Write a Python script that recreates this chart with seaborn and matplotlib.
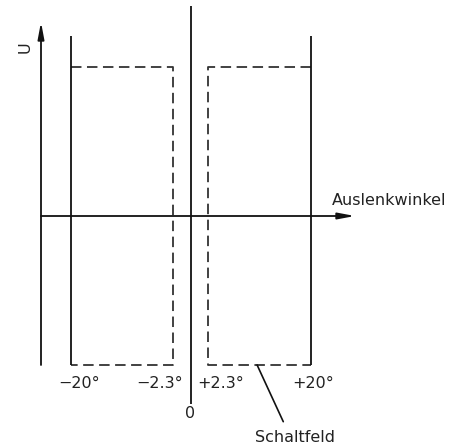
import numpy as np
import pandas as pd
import matplotlib
matplotlib.use('Agg')
import matplotlib.pyplot as plt
import seaborn as sns

# --- data (schematic: switching fields of a deflection-angle sensor) ---
angle_ticks = [-20, -2.3, 2.3, 20]                  # Auslenkwinkel in degrees
tick_labels = ['\u221220\u00b0', '\u22122.3\u00b0', '+2.3\u00b0', '+20\u00b0']
field_outer = [-20, 20]                             # outer limits of each field
field_inner = [-2.3, 2.3]                           # inner limits of each field
u_high, u_low = 1.0, -1.0                           # switching output U

sns.set_theme(style='white')
plt.rcParams['font.family'] = ['DejaVu Sans']

W, H = 450, 448
fig = plt.figure(figsize=(W / 100, H / 100), dpi=100)
ax = fig.add_axes([0, 0, 1, 1])
ax.set_axis_off()

# drawing is not to scale: compress angles with a mild power law
p = 0.9
fwd = lambda x: np.sign(x) * np.abs(x) ** p
inv = lambda y: np.sign(y) * np.abs(y) ** (1 / p)
ax.set_xscale('function', functions=(fwd, inv))
x0, k = 190.5, 120 / fwd(20)        # centre pixel, pixels per scaled unit
y0, ky = 216, 149                   # U = 0 pixel row, pixels per unit of U
ax.set_xlim(inv(-x0 / k), inv((W - x0) / k))
ax.set_ylim((y0 - H) / ky, y0 / ky)

ink = '#111111'

# dashed switching fields
rows = []
for i, (o, n) in enumerate(zip(field_outer, field_inner)):
    for x, y in [(o, u_high), (n, u_high), (n, u_low), (o, u_low)]:
        rows.append({'x': x, 'y': y, 'field': i})
df = pd.DataFrame(rows)
sns.lineplot(data=df, x='x', y='y', units='field', estimator=None, sort=False,
             ax=ax, color='#333333', lw=1.3, ls=(0, (5.8, 3.05)), legend=False)

# solid limit lines at +/-20 deg and the zero line
ax.vlines(field_outer, u_low, 1.21, color=ink, lw=1.3)
ax.vlines([0], -1.262, 1.41, color=ink, lw=1.3)

# coordinate axes with arrows (figure pixels, origin bottom-left)
arrow = dict(arrowstyle='-|>,head_length=0.4,head_width=0.075', color=ink,
             lw=1.3, mutation_scale=25, shrinkA=0, shrinkB=0)
ax.annotate('', xy=(41, H - 22), xytext=(41, H - 365),
            xycoords='figure pixels', arrowprops=arrow)
ax.annotate('', xy=(355, H - y0), xytext=(41, H - y0),
            xycoords='figure pixels', arrowprops=arrow)

fs = 11.5
txt = '#222222'
ax.text(25, H - 47, 'U', transform=None, rotation=90, ha='center',
        va='center', fontsize=fs, color=txt)
ax.text(332, H - 205, 'Auslenkwinkel', transform=None, ha='left',
        va='baseline', fontsize=fs, color=txt)

# angle labels under the fields
offsets = [8.5, -13.5, 12.5, 3]
for a, lbl, dx in zip(angle_ticks, tick_labels, offsets):
    ax.annotate(lbl, xy=(a, u_low), xytext=(dx, -23), textcoords='offset pixels',
                ha='center', va='baseline', fontsize=fs, color=txt)
ax.annotate('0', xy=(0, u_low), xytext=(0, -53), textcoords='offset pixels',
            ha='center', va='baseline', fontsize=fs, color=txt)

# leader to the switching field
ax.annotate('Schaltfeld', xy=(10.4, u_low), xytext=(-2, -77),
            textcoords='offset pixels', ha='left', va='baseline',
            fontsize=fs, color=txt,
            arrowprops=dict(arrowstyle='-', color=ink, lw=1.2,
                            relpos=(0.4, 1.0), shrinkA=4, shrinkB=0))

fig.savefig('out.png', dpi=100)
